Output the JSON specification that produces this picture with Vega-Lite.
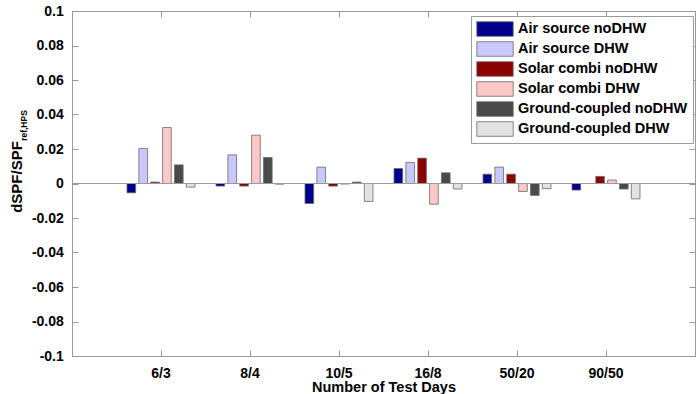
{
  "$schema": "https://vega.github.io/schema/vega-lite/v6.json",
  "width": 623,
  "height": 345,
  "autosize": {"type": "none"},
  "padding": {"left": 72, "top": 11, "right": 1, "bottom": 38},
  "background": "white",
  "config": {
    "font": "Liberation Sans",
    "view": {"stroke": "#9a9a9a", "strokeWidth": 1},
    "axis": {
      "grid": false,
      "domainColor": "#9a9a9a",
      "tickColor": "#9a9a9a",
      "labelColor": "#000000",
      "titleColor": "#000000",
      "labelFont": "Liberation Sans",
      "titleFont": "Liberation Sans",
      "labelFontWeight": "bold",
      "labelFontSize": 14,
      "titleFontWeight": "bold",
      "titleFontSize": 14.5,
      "tickSize": -6
    }
  },
  "datasets": {
    "bars": [
      {"days": "6/3", "series": "Air source noDHW", "value": -0.0054},
      {"days": "6/3", "series": "Air source DHW", "value": 0.0203},
      {"days": "6/3", "series": "Solar combi noDHW", "value": 0.0008},
      {"days": "6/3", "series": "Solar combi DHW", "value": 0.0325},
      {"days": "6/3", "series": "Ground-coupled noDHW", "value": 0.0108},
      {"days": "6/3", "series": "Ground-coupled DHW", "value": -0.0021},
      {"days": "8/4", "series": "Air source noDHW", "value": -0.0015},
      {"days": "8/4", "series": "Air source DHW", "value": 0.0166},
      {"days": "8/4", "series": "Solar combi noDHW", "value": -0.0015},
      {"days": "8/4", "series": "Solar combi DHW", "value": 0.028},
      {"days": "8/4", "series": "Ground-coupled noDHW", "value": 0.0151},
      {"days": "8/4", "series": "Ground-coupled DHW", "value": -0.0004},
      {"days": "10/5", "series": "Air source noDHW", "value": -0.0116},
      {"days": "10/5", "series": "Air source DHW", "value": 0.0095},
      {"days": "10/5", "series": "Solar combi noDHW", "value": -0.0015},
      {"days": "10/5", "series": "Solar combi DHW", "value": -0.0003},
      {"days": "10/5", "series": "Ground-coupled noDHW", "value": 0.0008},
      {"days": "10/5", "series": "Ground-coupled DHW", "value": -0.0104},
      {"days": "16/8", "series": "Air source noDHW", "value": 0.0087},
      {"days": "16/8", "series": "Air source DHW", "value": 0.0122},
      {"days": "16/8", "series": "Solar combi noDHW", "value": 0.0147},
      {"days": "16/8", "series": "Solar combi DHW", "value": -0.012},
      {"days": "16/8", "series": "Ground-coupled noDHW", "value": 0.0062},
      {"days": "16/8", "series": "Ground-coupled DHW", "value": -0.0032},
      {"days": "50/20", "series": "Air source noDHW", "value": 0.0054},
      {"days": "50/20", "series": "Air source DHW", "value": 0.0095},
      {"days": "50/20", "series": "Solar combi noDHW", "value": 0.0054},
      {"days": "50/20", "series": "Solar combi DHW", "value": -0.0046},
      {"days": "50/20", "series": "Ground-coupled noDHW", "value": -0.0069},
      {"days": "50/20", "series": "Ground-coupled DHW", "value": -0.003},
      {"days": "90/50", "series": "Air source noDHW", "value": -0.0038},
      {"days": "90/50", "series": "Air source DHW", "value": 0.0},
      {"days": "90/50", "series": "Solar combi noDHW", "value": 0.0041},
      {"days": "90/50", "series": "Solar combi DHW", "value": 0.002},
      {"days": "90/50", "series": "Ground-coupled noDHW", "value": -0.0032},
      {"days": "90/50", "series": "Ground-coupled DHW", "value": -0.0089}
    ]
  },
  "layer": [
    {
      "data": {"name": "bars"},
      "mark": {"type": "bar", "stroke": "#6a6a6a", "strokeWidth": 0.8},
      "encoding": {
        "x": {
          "field": "days",
          "type": "nominal",
          "sort": ["6/3", "8/4", "10/5", "16/8", "50/20", "90/50"],
          "scale": {"paddingInner": 0.2, "paddingOuter": 0.6},
          "axis": {
            "orient": "bottom",
            "labelAngle": 0,
            "labelPadding": 16,
            "title": "Number of Test Days",
            "titleY": 35.5,
            "titleBaseline": "alphabetic"
          }
        },
        "xOffset": {
          "field": "series",
          "sort": ["Air source noDHW", "Air source DHW", "Solar combi noDHW", "Solar combi DHW", "Ground-coupled noDHW", "Ground-coupled DHW"],
          "scale": {"paddingInner": 0.27, "paddingOuter": 0.135}
        },
        "y": {
          "field": "value",
          "type": "quantitative",
          "scale": {"domain": [-0.1, 0.1], "nice": false},
          "axis": {
            "orient": "left",
            "values": [-0.1, -0.08, -0.06, -0.04, -0.02, 0, 0.02, 0.04, 0.06, 0.08, 0.1],
            "labelExpr": "datum.value == 0 ? '0' : toString(round(datum.value * 100) / 100)",
            "labelPadding": 14.7,
            "title": "dSPF/SPF",
            "titleX": -56,
            "titleY": 165.5,
            "titleAlign": "center",
            "titleBaseline": "middle",
            "titleFontSize": 15
          }
        },
        "color": {
          "field": "series",
          "type": "nominal",
          "scale": {
            "domain": ["Air source noDHW", "Air source DHW", "Solar combi noDHW", "Solar combi DHW", "Ground-coupled noDHW", "Ground-coupled DHW"],
            "range": ["#00008c", "#c8c8fc", "#8b0000", "#fcc8c8", "#4a4a4a", "#e2e2e2"]
          },
          "legend": {
            "title": null,
            "orient": "none",
            "legendX": 399,
            "legendY": 5,
            "direction": "vertical",
            "symbolType": "M-2.5,-1H2.5V1H-2.5Z",
            "symbolSize": 212,
            "symbolStrokeColor": "#6a6a6a",
            "symbolStrokeWidth": 0.8,
            "symbolOffset": 11,
            "labelFont": "Liberation Sans",
            "labelFontSize": 14.5,
            "labelFontWeight": "bold",
            "labelColor": "#000000",
            "labelOffset": 15,
            "labelLimit": 300,
            "padding": 5,
            "rowPadding": 2,
            "strokeColor": "#9a9a9a",
            "fillColor": "white"
          }
        }
      }
    },
    {
      "data": {"values": [{}]},
      "mark": {"type": "rule", "color": "#9a9a9a", "strokeWidth": 1},
      "encoding": {
        "y": {
          "datum": 0,
          "type": "quantitative",
          "scale": {"domain": [-0.1, 0.1], "nice": false},
          "axis": {
            "orient": "left",
            "title": "ref,HPS",
            "labels": false,
            "ticks": false,
            "domain": false,
            "titleX": -49,
            "titleY": 114,
            "titleFontSize": 8.5,
            "titleAlign": "center",
            "titleBaseline": "middle"
          }
        }
      }
    },
    {
      "data": {"name": "bars"},
      "mark": {"type": "point", "opacity": 0},
      "encoding": {
        "x": {
          "field": "days",
          "type": "nominal",
          "sort": ["6/3", "8/4", "10/5", "16/8", "50/20", "90/50"],
          "axis": {"orient": "top", "labels": false, "title": null, "domain": false}
        },
        "y": {
          "datum": 0,
          "type": "quantitative",
          "scale": {"domain": [-0.1, 0.1], "nice": false},
          "axis": {
            "orient": "right",
            "labels": false,
            "title": null,
            "domain": false,
            "values": [-0.1, -0.08, -0.06, -0.04, -0.02, 0, 0.02, 0.04, 0.06, 0.08, 0.1]
          }
        }
      }
    }
  ],
  "resolve": {"scale": {"y": "independent"}, "axis": {"x": "independent", "y": "independent"}}
}
